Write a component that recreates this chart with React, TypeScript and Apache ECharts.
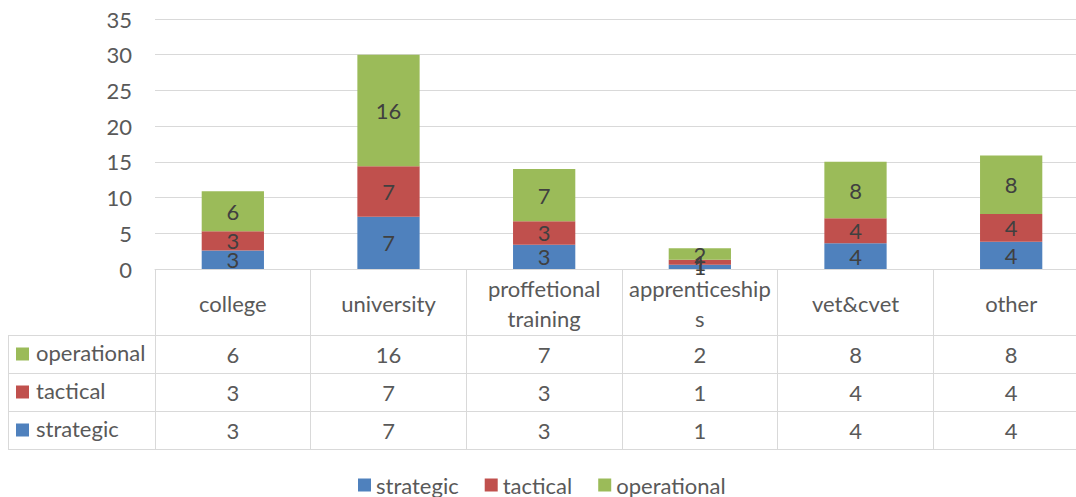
import React, { useEffect, useRef } from "react";
import * as echarts from "echarts";

const categories = ["college", "university", "proffetional training", "apprenticeships", "vet&cvet", "other"];
const headerLabels = ["college", "university", "proffetional\ntraining", "apprenticeship\ns", "vet&cvet", "other"];
const strategic = [2.6, 7.3, 3.4, 0.6, 3.6, 3.8];
const tactical = [2.7, 7.1, 3.3, 0.7, 3.5, 3.9];
const operational = [5.6, 15.6, 7.3, 1.6, 7.9, 8.2];
const seriesNames = ["strategic", "tactical", "operational"];
const seriesColors = ["#4F81BD", "#C0504D", "#9BBB59"];
const yMin = 0;
const yMax = 35;
const yStep = 5;

const FONT = "Lato";
const GRID_LINE = "#D9D9D9";
const TEXT = "#595959";

export default function App() {
  const ref = useRef<HTMLDivElement>(null);
  useEffect(() => {
    if (!ref.current) return;
    const chart = echarts.init(ref.current, null, { renderer: "svg" });
    const values = [strategic, tactical, operational];
    const tableRows = [
      { name: "operational", data: operational, color: seriesColors[2] },
      { name: "tactical", data: tactical, color: seriesColors[1] },
      { name: "strategic", data: strategic, color: seriesColors[0] },
    ];
    const rowCenters = [354, 392, 430];
    const gridLeft = 155;
    const gridWidth = 934;

    const option: any = {
      animation: false,
      textStyle: { fontFamily: FONT },
      grid: [
        { left: gridLeft, top: 19, width: gridWidth, height: 250 },
        { left: gridLeft, top: 269, width: gridWidth, height: 180 },
        { left: 8, top: 335, width: 1081, height: 114 },
      ],
      xAxis: [
        {
          type: "category",
          gridIndex: 0,
          data: categories,
          axisLine: { show: true, lineStyle: { color: GRID_LINE, width: 1 } },
          axisTick: { show: false },
          axisLabel: {
            interval: 0,
            margin: 34,
            verticalAlign: "middle",
            lineHeight: 30,
            fontSize: 22,
            fontFamily: FONT,
            color: TEXT,
            formatter: (_v: string, i: number) => headerLabels[i],
          },
        },
        ...tableRows.map((row, k) => ({
          type: "category",
          gridIndex: 0,
          position: "bottom",
          data: categories,
          axisLine: { show: false },
          axisTick: { show: false },
          splitLine: { show: false },
          axisLabel: {
            interval: 0,
            margin: rowCenters[k] - 269,
            verticalAlign: "middle",
            fontSize: 22,
            fontFamily: FONT,
            color: TEXT,
            formatter: (_v: string, i: number) => String(Math.round(row.data[i])),
          },
        })),
        {
          type: "category",
          gridIndex: 1,
          data: categories,
          boundaryGap: true,
          axisLine: { show: false },
          axisTick: { show: false },
          axisLabel: { show: false },
          splitLine: { show: true, interval: 0, lineStyle: { color: GRID_LINE, width: 1 } },
        },
        {
          type: "value",
          gridIndex: 2,
          min: 0,
          max: 1,
          interval: 1,
          axisLine: { show: false },
          axisTick: { show: false },
          axisLabel: { show: false },
          splitLine: { show: true, lineStyle: { color: GRID_LINE, width: 1 } },
        },
      ],
      yAxis: [
        {
          type: "value",
          gridIndex: 0,
          min: yMin,
          max: yMax,
          interval: yStep,
          axisLine: { show: false },
          axisTick: { show: false },
          axisLabel: { margin: 23, fontSize: 22, fontFamily: FONT, color: TEXT },
          splitLine: { show: true, lineStyle: { color: GRID_LINE, width: 1 } },
        },
        {
          type: "value",
          gridIndex: 1,
          show: false,
          splitLine: { show: false },
        },
        {
          type: "value",
          gridIndex: 2,
          min: 0,
          max: 3,
          interval: 1,
          axisLine: { show: false },
          axisTick: { show: false },
          axisLabel: { show: false },
          splitLine: { show: true, lineStyle: { color: GRID_LINE, width: 1 } },
        },
      ],
      legend: {
        data: seriesNames,
        left: 358,
        top: 474,
        padding: 0,
        icon: "rect",
        itemWidth: 13,
        itemHeight: 13,
        itemGap: 26,
        textStyle: { fontSize: 22, fontFamily: FONT, color: TEXT },
      },
      graphic: tableRows.flatMap((row, k) => [
        {
          type: "rect",
          left: 16,
          top: rowCenters[k] - 6.5,
          shape: { width: 13, height: 13 },
          style: { fill: row.color },
        },
        {
          type: "text",
          left: 36,
          top: rowCenters[k] - 13,
          style: {
            text: row.name,
            fontSize: 22,
            fontFamily: FONT,
            fill: TEXT,
          },
        },
      ]),
      series: seriesNames.map((name, s) => ({
        name,
        type: "bar",
        stack: "total",
        xAxisIndex: 0,
        yAxisIndex: 0,
        barWidth: "40%",
        data: values[s],
        itemStyle: { color: seriesColors[s] },
        label: {
          show: true,
          position: "inside",
          fontSize: 22,
          fontFamily: FONT,
          color: "#404040",
          formatter: (p: any) => String(Math.round(p.value)),
        },
      })),
    };
    chart.setOption(option);
    return () => chart.dispose();
  }, []);
  return (
    <div
      style={{ position: "absolute", left: 0, top: 0, width: 1076, height: 497, overflow: "hidden", background: "#fff" }}
    >
      <div ref={ref} style={{ width: 1100, height: 497 }} />
    </div>
  );
}
